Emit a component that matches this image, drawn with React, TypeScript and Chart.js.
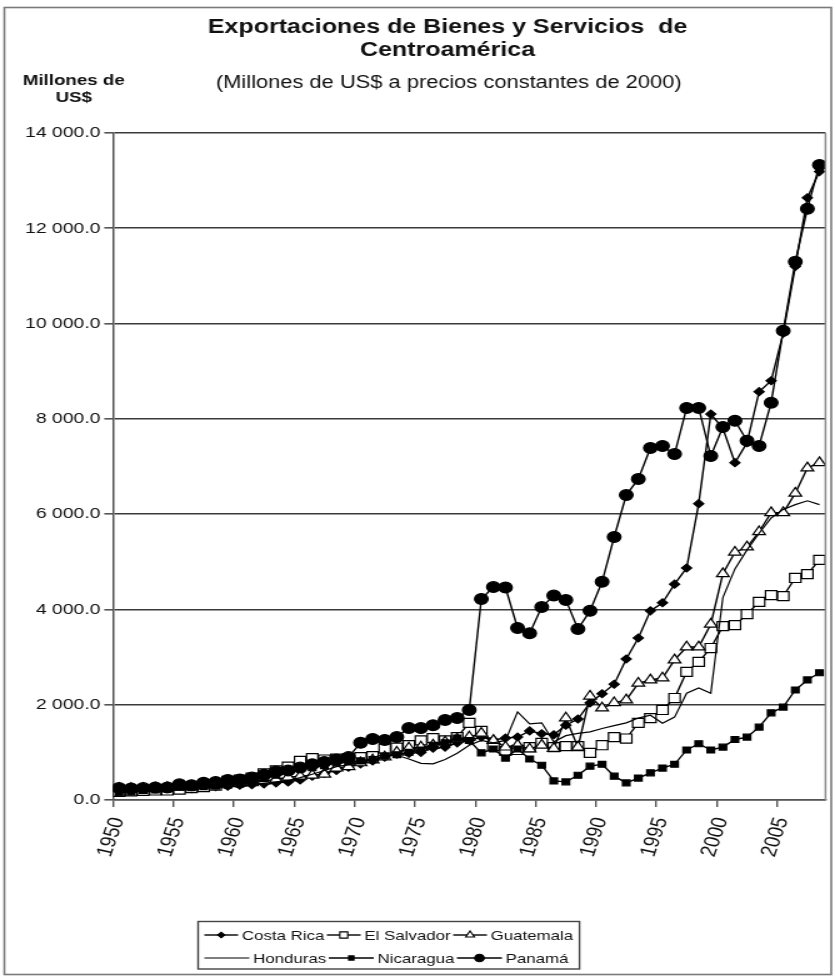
import React, { useEffect, useRef } from 'react';
import { Chart, registerables } from 'chart.js';

Chart.register(...registerables);

// Years on the horizontal axis
const years = [
  1950, 1951, 1952, 1953, 1954, 1955, 1956, 1957, 1958, 1959,
  1960, 1961, 1962, 1963, 1964, 1965, 1966, 1967, 1968, 1969,
  1970, 1971, 1972, 1973, 1974, 1975, 1976, 1977, 1978, 1979,
  1980, 1981, 1982, 1983, 1984, 1985, 1986, 1987, 1988, 1989,
  1990, 1991, 1992, 1993, 1994, 1995, 1996, 1997, 1998, 1999,
  2000, 2001, 2002, 2003, 2004, 2005, 2006, 2007, 2008,
];

// Labelled years on the x axis (tick marks sit at the start of each labelled year)
const tickYears = [1950, 1955, 1960, 1965, 1970, 1975, 1980, 1985, 1990, 1995, 2000, 2005];

// Y axis ticks (millones de US$)
const yTicks = [0, 2000, 4000, 6000, 8000, 10000, 12000, 14000];

// Exports by country, millones de US$ at 2000 prices
const costaRica = [
  200, 210, 220, 230, 230, 240, 240, 270, 280, 290,
  310, 320, 340, 360, 380, 420, 500, 560, 620, 690,
  760, 820, 900, 960, 980, 1000, 1090, 1110, 1200, 1250,
  1320, 1260, 1300, 1320, 1450, 1390, 1370, 1570, 1700, 2040,
  2230, 2430, 2960, 3400, 3970, 4140, 4530, 4870, 6220, 8100,
  7800, 7080, 7500, 8570, 8800, 9800, 11200, 12640, 13190,
];

const elSalvador = [
  170, 180, 190, 200, 200, 220, 250, 270, 300, 400,
  430, 470, 560, 620, 700, 820, 880, 850, 870, 880,
  900, 920, 1080, 1100, 1150, 1250, 1300, 1250, 1320, 1620,
  1450, 1130, 1030, 1050, 1110, 1200, 1110, 1130, 1130, 990,
  1150, 1320, 1290, 1620, 1720, 1890, 2140, 2690, 2900, 3190,
  3650, 3670, 3900, 4160, 4300, 4280, 4660, 4740, 5040,
];

const guatemala = [
  240, 240, 240, 250, 260, 270, 290, 310, 320, 340,
  350, 360, 400, 430, 480, 500, 520, 540, 670, 700,
  780, 840, 900, 1000, 1090, 1110, 1150, 1220, 1280, 1320,
  1400, 1250, 1110, 1150, 1070, 1150, 1080, 1720, 1110, 2180,
  1930, 2040, 2100, 2450, 2520, 2560, 2940, 3210, 3210, 3690,
  4750, 5200, 5310, 5630, 6030, 6030, 6440, 6970, 7080,
];

const honduras = [
  190, 200, 210, 220, 210, 220, 240, 260, 270, 280,
  290, 320, 350, 380, 410, 470, 540, 620, 700, 740,
  800, 880, 980, 940, 860, 770, 760, 850, 980, 1150,
  1250, 1200, 1250, 1850, 1600, 1620, 1220, 1350, 1400, 1430,
  1500, 1560, 1620, 1720, 1780, 1610, 1740, 2240, 2350, 2240,
  4250, 4850, 5250, 5600, 5920, 6100, 6200, 6280, 6200,
];

const nicaragua = [
  150, 170, 200, 210, 230, 270, 260, 280, 290, 310,
  330, 370, 450, 520, 600, 650, 680, 720, 780, 800,
  820, 850, 920, 950, 1000, 1050, 1150, 1200, 1300, 1250,
  990, 1070, 880, 1070, 860, 730, 400, 380, 520, 710,
  750, 500, 360, 460, 570, 670, 750, 1050, 1180, 1050,
  1110, 1270, 1320, 1530, 1830, 1950, 2310, 2520, 2670,
];

const panama = [
  250, 240, 250, 260, 260, 330, 310, 360, 380, 420,
  430, 470, 530, 600, 620, 680, 750, 800, 850, 900,
  1200, 1280, 1260, 1320, 1510, 1510, 1570, 1680, 1720, 1890,
  4220, 4470, 4460, 3610, 3500, 4050, 4290, 4200, 3590, 3970,
  4580, 5520, 6400, 6740, 7390, 7430, 7260, 8230, 8230, 7220,
  7830, 7960, 7540, 7430, 8340, 9850, 11300, 12410, 13330,
];

const seriesNames = ['Costa Rica', 'El Salvador', 'Guatemala', 'Honduras', 'Nicaragua', 'Panamá'];

const FONT = '"Liberation Sans", Arial, sans-serif';

type Marker = 'diamond' | 'square' | 'triangle' | 'circle' | 'none';

interface SeriesStyle {
  marker: Marker;
  pointStyle: any;
  radius: number;
  fill: string;
  lineWidth: number;
}

const styles: SeriesStyle[] = [
  { marker: 'diamond', pointStyle: 'rectRot', radius: 4, fill: '#000', lineWidth: 1.4 },
  { marker: 'square', pointStyle: 'rect', radius: 6.4, fill: '#fff', lineWidth: 1.4 },
  { marker: 'triangle', pointStyle: 'triangle', radius: 5.8, fill: '#fff', lineWidth: 1.4 },
  { marker: 'none', pointStyle: false, radius: 0, fill: '#000', lineWidth: 1.2 },
  { marker: 'square', pointStyle: 'rect', radius: 4.2, fill: '#000', lineWidth: 1.4 },
  { marker: 'circle', pointStyle: 'circle', radius: 5.4, fill: '#000', lineWidth: 1.4 },
];

const fmtNumber = (v: number) => {
  const [i, d] = v.toFixed(1).split('.');
  return i.replace(/\B(?=(\d{3})+(?!\d))/g, ' ') + '.' + d;
};

function drawMarker(ctx: CanvasRenderingContext2D, s: SeriesStyle, x: number, y: number, scale = 1) {
  const r = s.radius * scale;
  ctx.beginPath();
  if (s.marker === 'diamond') {
    ctx.moveTo(x - r, y);
    ctx.lineTo(x, y - r);
    ctx.lineTo(x + r, y);
    ctx.lineTo(x, y + r);
    ctx.closePath();
  } else if (s.marker === 'square') {
    const h = r * Math.SQRT1_2;
    ctx.rect(x - h, y - h, 2 * h, 2 * h);
  } else if (s.marker === 'triangle') {
    for (let k = 0; k < 3; k++) {
      const a = (k * 2 * Math.PI) / 3;
      const px = x + Math.sin(a) * r;
      const py = y - Math.cos(a) * r;
      if (k === 0) ctx.moveTo(px, py);
      else ctx.lineTo(px, py);
    }
    ctx.closePath();
  } else if (s.marker === 'circle') {
    ctx.arc(x, y, r, 0, Math.PI * 2);
  } else {
    return;
  }
  ctx.fillStyle = s.fill;
  ctx.fill();
  ctx.lineWidth = 1.1;
  ctx.strokeStyle = '#000';
  ctx.stroke();
}

const decorPlugin = {
  id: 'decor',
  beforeDraw(chart: any) {
    const { ctx, width, height } = chart;
    ctx.save();
    ctx.fillStyle = '#fff';
    ctx.fillRect(0, 0, width, height);
    ctx.strokeStyle = '#7a7a7a';
    ctx.lineWidth = 1.6;
    ctx.strokeRect(3.5, 7.5, 661.5, 967);
    ctx.restore();
  },
  afterDraw(chart: any) {
    const { ctx, chartArea } = chart;
    ctx.save();

    // right edge of the plot area
    ctx.strokeStyle = '#8a8a8a';
    ctx.lineWidth = 1.5;
    ctx.beginPath();
    ctx.moveTo(chartArea.right, chartArea.top);
    ctx.lineTo(chartArea.right, chartArea.bottom);
    ctx.stroke();

    // titles
    ctx.fillStyle = '#111';
    ctx.textAlign = 'center';
    ctx.textBaseline = 'middle';
    ctx.font = `bold 20px ${FONT}`;
    ctx.fillText('Exportaciones de Bienes y Servicios  de', 358, 27);
    ctx.fillText('Centroamérica', 358, 50);
    ctx.font = `17.5px ${FONT}`;
    ctx.fillText('(Millones de US$ a precios constantes de 2000)', 359, 83);
    ctx.font = `bold 15px ${FONT}`;
    ctx.fillText('Millones de', 59, 81);
    ctx.fillText('US$', 59, 98);

    // legend: two rows of three entries inside a framed box
    ctx.font = `13.5px ${FONT}`;
    const rows = [[0, 1, 2], [3, 4, 5]];
    const rowY = [935, 958];
    const rowSample = [27, 36];
    const boxLeft = 158.5;
    let maxRight = 0;
    rows.forEach((row, ri) => {
      let x = boxLeft + 5;
      const y = rowY[ri];
      const sampleLen = rowSample[ri];
      row.forEach((si) => {
        const s = styles[si];
        ctx.strokeStyle = '#000';
        ctx.lineWidth = s.lineWidth;
        ctx.beginPath();
        ctx.moveTo(x, y);
        ctx.lineTo(x + sampleLen, y);
        ctx.stroke();
        drawMarker(ctx, s, x + sampleLen / 2, y, 0.7);
        ctx.fillStyle = '#111';
        ctx.textAlign = 'left';
        ctx.textBaseline = 'middle';
        const tx = x + sampleLen + 3;
        ctx.fillText(seriesNames[si], tx, y + 1);
        const w = ctx.measureText(seriesNames[si]).width;
        x = tx + w + 2;
      });
      maxRight = Math.max(maxRight, x);
    });
    ctx.strokeStyle = '#444';
    ctx.lineWidth = 1.4;
    ctx.strokeRect(boxLeft, 921.5, maxRight + 3 - boxLeft, 47.5);

    ctx.restore();
  },
};

export default function App() {
  const canvasRef = useRef<HTMLCanvasElement | null>(null);

  useEffect(() => {
    document.body.style.margin = '0';
    const canvas = canvasRef.current;
    if (!canvas) return;

    const seriesValues = [costaRica, elSalvador, guatemala, honduras, nicaragua, panama];
    const drawOrder = [5, 4, 3, 2, 1, 0];

    const datasets = seriesValues.map((vals, si) => ({
      label: seriesNames[si],
      data: years.map((yr, i) => ({ x: yr, y: vals[i] })),
      borderColor: '#000',
      borderWidth: styles[si].lineWidth,
      pointStyle: styles[si].pointStyle,
      pointRadius: styles[si].radius,
      pointBackgroundColor: styles[si].fill,
      pointBorderColor: '#000',
      pointBorderWidth: 1.2,
      tension: 0,
      fill: false,
      order: drawOrder[si],
    }));

    const chart = new Chart(canvas, {
      type: 'line',
      data: { datasets },
      plugins: [decorPlugin],
      options: {
        responsive: false,
        animation: false,
        devicePixelRatio: 1,
        layout: { padding: { top: 133, right: 7.2, bottom: 0, left: 0 } },
        plugins: {
          legend: { display: false },
          title: { display: false },
          tooltip: { enabled: false },
        },
        scales: {
          x: {
            type: 'linear',
            min: years[0] - 0.5,
            max: years[years.length - 1] + 0.5,
            afterBuildTicks: (axis: any) => {
              axis.ticks = tickYears.map((t) => ({ value: t - 0.5 }));
            },
            afterFit: (axis: any) => {
              axis.height = 178;
            },
            ticks: {
              autoSkip: false,
              minRotation: 74,
              maxRotation: 74,
              padding: 8,
              labelOffset: 4,
              color: '#111',
              font: { family: FONT, size: 18 },
              callback: (v: any) => String(Math.round(Number(v) + 0.5)),
            },
            grid: {
              drawOnChartArea: false,
              drawTicks: true,
              tickLength: 7,
              color: '#555',
              lineWidth: 1.4,
            },
            border: { display: true, color: '#555', width: 1.5 },
          },
          y: {
            type: 'linear',
            min: yTicks[0],
            max: yTicks[yTicks.length - 1],
            afterBuildTicks: (axis: any) => {
              axis.ticks = yTicks.map((t) => ({ value: t }));
            },
            afterFit: (axis: any) => {
              axis.width = 90.4;
            },
            ticks: {
              padding: 3,
              color: '#111',
              font: { family: FONT, size: 15.5 },
              callback: (v: any) => fmtNumber(Number(v)),
            },
            grid: {
              color: '#3a3a3a',
              lineWidth: 1.6,
              tickLength: 7,
              tickColor: '#555',
            },
            border: { display: true, color: '#555', width: 1.5 },
          },
        },
      },
    });

    return () => chart.destroy();
  }, []);

  return (
    <div style={{ width: 835, height: 978 }}>
      <canvas ref={canvasRef} width={668} height={978} style={{ width: '835px', height: '978px' }} />
    </div>
  );
}
